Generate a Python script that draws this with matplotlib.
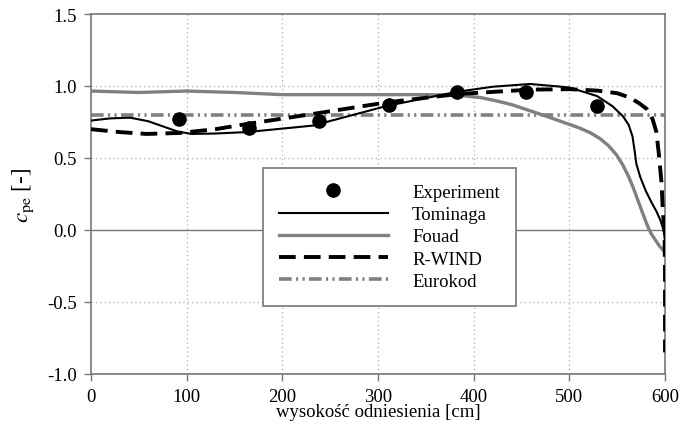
# Współczynnik ciśnienia zewnętrznego cpe wzdłuż wysokości – porównanie modeli.

import matplotlib
matplotlib.use("Agg")
import matplotlib.pyplot as plt

# punkty pomiarowe
exp_x = [92, 165, 238, 311, 383, 455, 529]
exp_y = [0.77, 0.71, 0.755, 0.868, 0.956, 0.956, 0.863]

# Tominaga
tom_x = [0, 20, 41, 60, 75, 90, 105, 130, 163, 232, 310, 383, 420, 459, 500, 529, 545, 556,
         562, 566, 568, 570, 574, 580, 586, 591, 595, 598.5, 600, 600]
tom_y = [0.76, 0.775, 0.78, 0.755, 0.72, 0.685, 0.667, 0.67, 0.68, 0.725, 0.863, 0.96, 0.995,
         1.014, 0.99, 0.93, 0.86, 0.79, 0.73, 0.65, 0.56, 0.46, 0.37, 0.27, 0.19, 0.13, 0.07,
         0.0, -0.08, -0.15]

# Fouad
fou_x = [0, 50, 100, 150, 200, 250, 300, 350, 385, 407, 425, 440, 458, 476, 495, 510, 522,
         532, 541, 549.5, 556, 562, 567, 572, 577, 581, 585, 590, 594, 598, 600]
fou_y = [0.965, 0.955, 0.965, 0.955, 0.94, 0.94, 0.94, 0.94, 0.935, 0.92, 0.895, 0.87, 0.83,
         0.79, 0.745, 0.71, 0.675, 0.635, 0.585, 0.52, 0.45, 0.37, 0.29, 0.2, 0.11, 0.04,
         -0.02, -0.07, -0.11, -0.14, -0.16]

# R-WIND
rw_x = [0, 30, 58, 93, 130, 163, 232, 310, 383, 459, 500, 529, 550, 563, 573, 581, 587,
        591, 594, 596.3, 598, 599.5, 600, 600]
rw_y = [0.70, 0.68, 0.667, 0.674, 0.70, 0.736, 0.806, 0.887, 0.944, 0.975, 0.978, 0.968,
        0.95, 0.92, 0.88, 0.84, 0.77, 0.68, 0.50, 0.33, 0.10, 0.0, -0.3, -0.85]

# Eurokod
ek_x = [0, 600]
ek_y = [0.8, 0.8]

plt.rcParams['font.family'] = ['Liberation Serif', 'DejaVu Serif']
plt.rcParams['mathtext.fontset'] = 'stix'

fig = plt.figure(figsize=(6.91, 4.35), dpi=100)
ax = fig.add_axes([0.1317, 0.138, 0.9624 - 0.1317, 0.9655 - 0.138])

grid_col = '#aaaaaa'
for gx in [100, 200, 300, 400, 500]:
    ax.axvline(gx, color=grid_col, lw=0.9, ls=(0, (1, 2.5)), zorder=0)
for gy in [1.0, 0.5, -0.5]:
    ax.axhline(gy, color=grid_col, lw=0.9, ls=(0, (1, 2.5)), zorder=0)
ax.axhline(0.0, color='#777777', lw=1.0, zorder=1)

ax.plot(ek_x, ek_y, color='#808080', lw=2.6,
        dashes=(3.5, 1.2, 0.6, 1.2, 0.6, 1.2), label='Eurokod', zorder=2)
ax.plot(fou_x, fou_y, color='#808080', lw=2.4, label='Fouad', zorder=3)
ax.plot(tom_x, tom_y, color='black', lw=1.5, label='Tominaga', zorder=4)
ax.plot(rw_x, rw_y, color='black', lw=2.8, dashes=(4.3, 2.1), label='R-WIND', zorder=5)
ax.plot(exp_x, exp_y, 'o', color='black', ms=9.5, ls='none', label='Experiment', zorder=6)

ax.set_xlim(0, 600)
ax.set_ylim(-1.0, 1.5)
ax.set_xticks([0, 100, 200, 300, 400, 500, 600])
ax.set_yticks([-1.0, -0.5, 0.0, 0.5, 1.0, 1.5])
ax.set_yticklabels(['-1.0', '-0.5', '0.0', '0.5', '1.0', '1.5'])
ax.tick_params(direction='out', length=5, width=1, color='#777777',
               labelsize=13.5, pad=5)

for sp in ax.spines.values():
    sp.set_color('#777777')
    sp.set_linewidth(1.2)

ax.set_xlabel('wysokość odniesienia [cm]', fontsize=13.5, labelpad=-1)
ax.set_ylabel(r'$c_{\mathrm{pe}}$ [-]', fontsize=16.5, labelpad=8)

handles, labels = ax.get_legend_handles_labels()
order = ['Experiment', 'Tominaga', 'Fouad', 'R-WIND', 'Eurokod']
hmap = dict(zip(labels, handles))
leg = ax.legend([hmap[k] for k in order], order, loc='upper left',
                bbox_to_anchor=((263 - 91) / 574, (375 - 169) / 360),
                fontsize=13.5, handlelength=5.8, handletextpad=1.3,
                labelspacing=0.27, borderpad=0.85, borderaxespad=0,
                frameon=True, fancybox=False, framealpha=1, edgecolor='#777777')
leg.get_frame().set_linewidth(1.2)
leg.set_zorder(10)

fig.savefig('out.png', dpi=100)
